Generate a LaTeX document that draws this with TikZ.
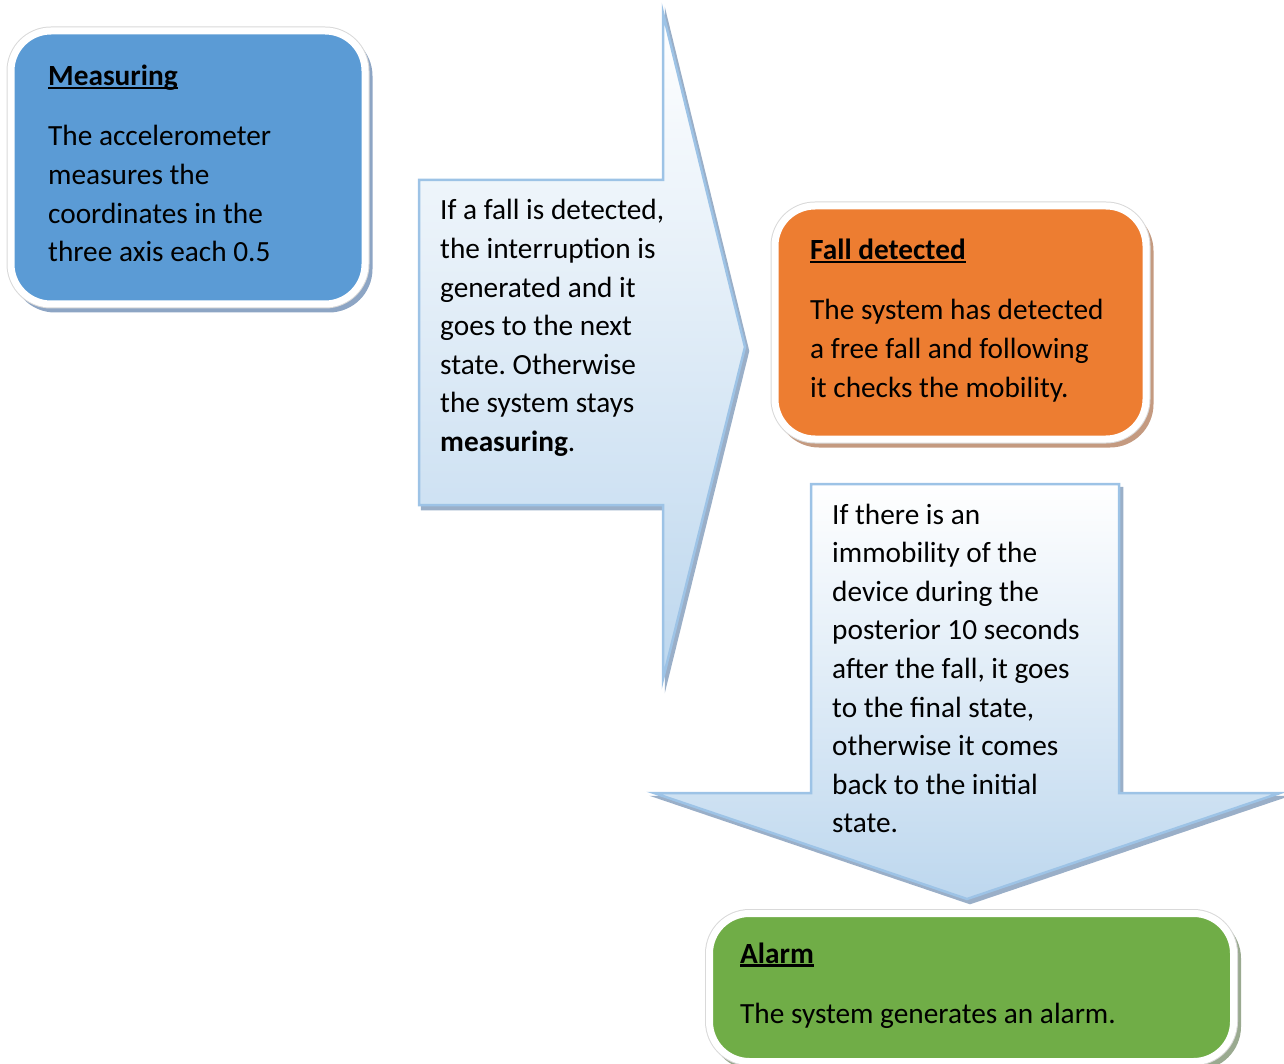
\documentclass[tikz,border=0pt]{standalone}
\usepackage{fontspec}
\setmainfont{Carlito}
\definecolor{mblue}{HTML}{5B9BD5}
\definecolor{morange}{HTML}{ED7D31}
\definecolor{mgreen}{HTML}{70AD47}
\definecolor{shblue}{HTML}{8DA5C4}
\definecolor{shorange}{HTML}{C49A80}
\definecolor{shgreen}{HTML}{9AAA90}
\definecolor{arrline}{HTML}{9DC3E6}
\definecolor{arrfill}{HTML}{BDD7EE}
\definecolor{arrshadow}{HTML}{9AAFC8}
\newcommand\titleul[1]{\leavevmode\setbox0\hbox{\bfseries #1}\rlap{\rule[-3.5pt]{\wd0}{2.2pt}}\box0}
\newcommand\bodyfont{\fontsize{29.3}{38.6}\selectfont\frenchspacing}
\begin{document}
\begin{tikzpicture}[x=1pt,y=-1pt,
  statebox/.style n args={2}{rectangle, rounded corners=40pt, draw=white, fill=#1,
    line width=7pt, inner sep=0pt,
    preaction={draw=#2, fill=#2, line width=7pt, transform canvas={shift={(4pt,-5pt)}}},
    preaction={draw=black!15, line width=9pt}},
  txt/.style={inner sep=0pt, anchor=base west, font=\bodyfont},
  blockarrow/.style={top color=white, bottom color=arrfill, draw=arrline, line width=2.5pt, line join=miter},
  arrowshadow/.style={fill=arrshadow, draw=arrshadow, line width=2.5pt, transform canvas={shift={(3pt,-4pt)}}}
]
\useasboundingbox (0,0) rectangle (1284,1064);

% state boxes
\node[statebox={mblue}{shblue}, minimum width=354pt, minimum height=273pt] (meas) at (188,167.5) {};
\node[statebox={morange}{shorange}, minimum width=371pt, minimum height=233pt] (fall) at (960.5,322.5) {};
\node[statebox={mgreen}{shgreen}, minimum width=524pt, minimum height=148pt] (alarm) at (971.5,987.5) {};

% right block arrow (measuring -> fall detected)
\coordinate (r1) at (419,180);
\coordinate (r2) at (663,180);
\coordinate (r3) at (663,13);
\coordinate (rtip) at (745,347);
\coordinate (r5) at (663,679);
\coordinate (r6) at (663,505);
\coordinate (r7) at (419,505);
\path[arrowshadow] (r1) -- (r2) -- (r3) -- (rtip) -- (r5) -- (r6) -- (r7) -- cycle;
\path[blockarrow] (r1) -- (r2) -- (r3) -- (rtip) -- (r5) -- (r6) -- (r7) -- cycle;

% down block arrow (fall detected -> alarm)
\coordinate (d1) at (811,484);
\coordinate (d2) at (1119,484);
\coordinate (d3) at (1119,793);
\coordinate (d4) at (1280,793);
\coordinate (dtip) at (967,899);
\coordinate (d6) at (654,793);
\coordinate (d7) at (811,793);
\path[arrowshadow] (d1) -- (d2) -- (d3) -- (d4) -- (dtip) -- (d6) -- (d7) -- cycle;
\path[blockarrow] (d1) -- (d2) -- (d3) -- (d4) -- (dtip) -- (d6) -- (d7) -- cycle;

% texts
\node[txt] (measT) at (48,86) {\parbox[t]{320pt}{\raggedright\titleul{Measuring}\\[21.4pt]
  The accelerometer\\ measures the\\ coordinates in the\\ three axis each 0.5}};
\node[txt] (fallT) at (810,260) {\parbox[t]{330pt}{\raggedright\titleul{Fall detected}\\[21.4pt]
  The system has detected\\ a free fall and following\\ it checks the mobility.}};
\node[txt] (alarmT) at (740,963) {\parbox[t]{480pt}{\raggedright\titleul{Alarm}\\[21.4pt]
  The system generates an alarm.}};
\node[txt] (condR) at (440,220) {\parbox[t]{300pt}{\raggedright If a fall is detected,\\
  the interruption is\\ generated and it\\ goes to the next\\ state. Otherwise\\
  the system stays\\ \textbf{measuring}.}};
\node[txt] (condD) at (832,524) {\parbox[t]{300pt}{\raggedright If there is an\\
  immobility of the\\ device during the\\ posterior 10 seconds\\ after the fall, it goes\\
  to the final state,\\ otherwise it comes\\ back to the initial\\ state.}};
\end{tikzpicture}
\end{document}
